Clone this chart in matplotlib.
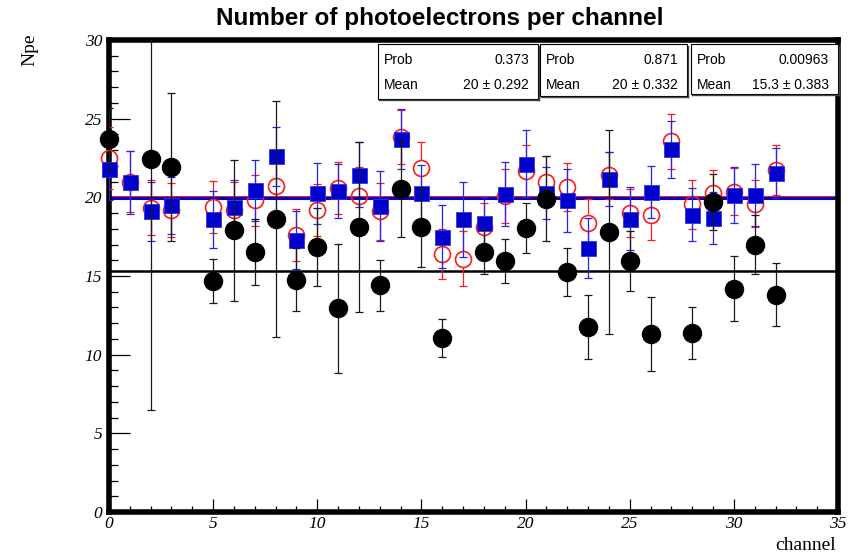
import numpy as np
import matplotlib.pyplot as plt
from matplotlib.patches import Rectangle
from matplotlib.lines import Line2D
from matplotlib.ticker import MultipleLocator

W, H = 856, 555

# channels with data (channel 4 is dead)
chan = [0, 1, 2, 3, 5, 6, 7, 8, 9, 10, 11, 12, 13, 14, 15, 16,
        17, 18, 19, 20, 21, 22, 23, 24, 25, 26, 27, 28, 29, 30, 31, 32]

npe_red = [22.5, 21.0, 19.35, 19.2, 19.4, 19.2, 19.8, 20.75, 17.6, 19.2, 20.6, 20.1,
           19.1, 23.85, 21.85, 16.4, 16.1, 18.1, 20.1, 21.7, 21.0, 20.65, 18.4, 21.4,
           19.0, 18.85, 23.55, 19.55, 20.25, 20.35, 19.6, 21.75]
err_red = [1.95, 1.95, 1.75, 1.7, 1.65, 1.8, 1.6, 1.8, 1.65, 1.65, 1.65, 1.8,
           1.8, 1.7, 1.65, 1.6, 1.75, 1.55, 1.7, 1.65, 1.6, 1.55, 1.5, 1.5,
           1.55, 1.55, 1.75, 1.55, 1.5, 1.5, 1.5, 1.6]

npe_blue = [21.8, 20.95, 19.1, 19.5, 18.6, 19.4, 20.45, 22.6, 17.3, 20.25, 20.4, 21.45,
            19.45, 23.7, 20.25, 17.5, 18.6, 18.4, 20.2, 22.15, 20.25, 19.8, 16.8, 21.15,
            18.65, 20.35, 23.05, 18.9, 18.7, 20.15, 20.15, 21.55]
err_blue = [2.0, 2.0, 1.85, 1.8, 1.8, 1.7, 1.95, 1.85, 1.85, 1.95, 1.7, 2.05,
            2.2, 1.9, 1.8, 2.0, 2.4, 1.65, 2.05, 2.1, 1.65, 2.0, 1.9, 1.7,
            2.0, 1.65, 1.8, 1.7, 1.65, 1.8, 2.0, 1.6]

chan_black = [0, 2, 3, 5, 6, 7, 8, 9, 10, 11, 12, 13, 14, 15, 16,
              18, 19, 20, 21, 22, 23, 24, 25, 26, 28, 29, 30, 31, 32]
npe_black = [23.7, 22.45, 21.9, 14.7, 17.9, 16.55, 18.6, 14.75, 16.85, 12.95, 18.1, 14.4,
             20.55, 18.1, 11.05, 16.55, 15.95, 18.05, 19.9, 15.25, 11.75, 17.8, 15.95,
             11.3, 11.4, 19.7, 14.2, 17.0, 13.8]
err_black = [2.0, 15.95, 4.7, 1.4, 4.5, 2.1, 7.5, 2.0, 2.5, 4.1, 5.4, 1.6,
             3.1, 2.5, 1.2, 1.45, 1.4, 1.6, 2.7, 1.5, 2.05, 6.5, 1.9,
             2.35, 1.65, 1.8, 2.05, 1.85, 2.0]

# constant fits: red, blue, black
fit_mean = [20.04, 19.96, 15.3]
fit_err = [0.292, 0.332, 0.383]
fit_prob = [0.373, 0.871, 0.00963]

RED = '#ff1a1a'
BLUE = '#0000cc'
BLUE_ERR = '#2424f0'
BLACK = '#000000'

fig = plt.figure(figsize=(W / 100, H / 100), dpi=100)
ax = fig.add_axes([109 / W, 1 - 512 / H, (838 - 109) / W, (512 - 40) / H])
ax.set_xlim(0, 35)
ax.set_ylim(0, 30)

# fit lines
ax.axhline(fit_mean[0], color=RED, lw=2.2, zorder=2)
ax.axhline(fit_mean[1], color=BLUE, lw=2.2, zorder=2)
ax.axhline(fit_mean[2], color=BLACK, lw=1.8, zorder=2)

# red open circles: error line stops at the circle edge
r_circ = 0.52
x_r = np.array(chan, dtype=float)
y_r = np.array(npe_red)
e_r = np.array(err_red)
ax.vlines(x_r, y_r + r_circ, y_r + e_r, color=RED, lw=0.9, zorder=3)
ax.vlines(x_r, y_r - e_r, y_r - r_circ, color=RED, lw=0.9, zorder=3)
ax.errorbar(x_r, y_r, yerr=e_r, fmt='none', ecolor=RED, elinewidth=0,
            capsize=2.9, capthick=0.9, zorder=3)
ax.plot(x_r, y_r, 'o', ms=11.5, mfc='none', mec=RED, mew=1.2, zorder=3.5, clip_on=False)

# blue squares
ax.errorbar(chan, npe_blue, yerr=err_blue, fmt='none', ecolor=BLUE_ERR, elinewidth=0.9,
            capsize=2.9, capthick=0.9, zorder=4)
ax.plot(chan, npe_blue, 's', ms=10.8, mfc=BLUE, mec='#3333e6', mew=0.6, zorder=4.5, clip_on=False)

# black filled circles
ax.errorbar(chan_black, npe_black, yerr=err_black, fmt='none', ecolor='#1a1a1a', elinewidth=0.9,
            capsize=2.9, capthick=0.9, zorder=5)
ax.plot(chan_black, npe_black, 'o', ms=13, mfc=BLACK, mec=BLACK, zorder=5.5, clip_on=False)

# frame and ticks
for s in ax.spines.values():
    s.set_linewidth(4)
ax.xaxis.set_major_locator(MultipleLocator(5))
ax.xaxis.set_minor_locator(MultipleLocator(1))
ax.yaxis.set_major_locator(MultipleLocator(5))
ax.yaxis.set_minor_locator(MultipleLocator(1))
ax.tick_params(axis='x', which='major', direction='in', length=9.4, width=0.9, pad=3)
ax.tick_params(axis='x', which='minor', direction='in', length=4.3, width=0.9)
ax.tick_params(axis='y', which='major', direction='in', length=15, width=0.9, pad=5)
ax.tick_params(axis='y', which='minor', direction='in', length=6.5, width=0.9)
for lab in ax.get_xticklabels() + ax.get_yticklabels():
    lab.set_family('Liberation Serif')
    lab.set_style('italic')
    lab.set_fontsize(12.5)

fig.text(440 / W, 1 - 18 / H, 'Number of photoelectrons per channel', ha='center', va='center',
         family='Liberation Sans', weight='bold', fontsize=17.5)
fig.text(30 / W, 1 - 33 / H, 'Npe', rotation=90, ha='center', va='top',
         family='Liberation Serif', fontsize=14)
fig.text(836 / W, 1 - 545 / H, 'channel', ha='right', va='center',
         family='Liberation Serif', fontsize=14)

# stat boxes (pixel edges: left, right, bottom)
boxes = [(378, 538, 99), (540, 687, 96), (691, 838, 94)]
top = 44
for (x0, x1, yb), p, m, e in zip(boxes, fit_prob, fit_mean, fit_err):
    fx0, fx1 = x0 / W, x1 / W
    fy0, fy1 = 1 - yb / H, 1 - top / H
    fig.add_artist(Rectangle((fx0, fy0), fx1 - fx0, fy1 - fy0, transform=fig.transFigure,
                             facecolor='white', edgecolor='black', lw=0.8, zorder=10))
    # shadow on right and bottom
    fig.add_artist(Line2D([fx0 + 1 / W, fx1 + 1 / W], [fy0 - 1 / H, fy0 - 1 / H],
                          transform=fig.transFigure, color='#444444', lw=1.0, zorder=10))
    fig.add_artist(Line2D([fx1 + 1 / W, fx1 + 1 / W], [fy0 - 1 / H, fy1 - 2 / H],
                          transform=fig.transFigure, color='#444444', lw=1.0, zorder=10))
    for ty, name, val in [(60, 'Prob', f'{p:.3g}'), (85, 'Mean', f'{m:.3g} \u00b1 {e:.3g}')]:
        fig.text((x0 + 6) / W, 1 - ty / H, name, ha='left', va='center',
                 family='Liberation Sans', fontsize=10, zorder=11)
        fig.text((x1 - 9) / W, 1 - ty / H, val, ha='right', va='center',
                 family='Liberation Sans', fontsize=10, zorder=11)

fig.savefig('out.png', dpi=100)
